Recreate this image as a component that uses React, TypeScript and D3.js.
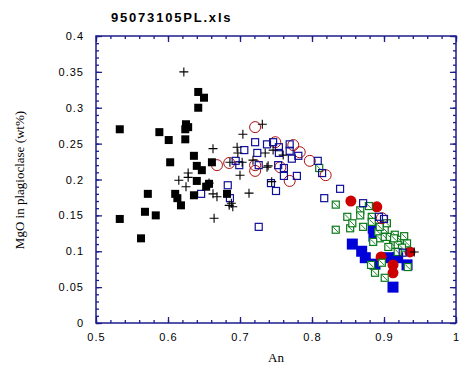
import * as d3 from "d3";
import { useEffect, useRef } from "react";

type Pt = [number, number];

// [An, MgO wt%]
const blackSquares: Pt[] = [
    [0.533, 0.270], [0.588, 0.266], [0.601, 0.255], [0.624, 0.256], [0.642, 0.322],
    [0.650, 0.314], [0.642, 0.300], [0.625, 0.277], [0.628, 0.273], [0.624, 0.270],
    [0.603, 0.224], [0.636, 0.233], [0.640, 0.219], [0.647, 0.213], [0.661, 0.224],
    [0.640, 0.198], [0.657, 0.194], [0.653, 0.190], [0.572, 0.180], [0.610, 0.180],
    [0.613, 0.174], [0.618, 0.164], [0.636, 0.178], [0.682, 0.180], [0.568, 0.155],
    [0.583, 0.150], [0.533, 0.145], [0.5625, 0.118]
];

const plusPoints: Pt[] = [
    [0.622, 0.350], [0.731, 0.277], [0.704, 0.263], [0.6625, 0.243], [0.696, 0.245],
    [0.697, 0.237], [0.735, 0.237], [0.746, 0.241], [0.760, 0.234], [0.686, 0.224],
    [0.703, 0.224], [0.718, 0.227], [0.7375, 0.217], [0.739, 0.219], [0.700, 0.206],
    [0.744, 0.197], [0.628, 0.209], [0.628, 0.203], [0.615, 0.199], [0.625, 0.190],
    [0.657, 0.195], [0.6625, 0.180], [0.668, 0.176], [0.7125, 0.181], [0.685, 0.164],
    [0.690, 0.162], [0.688, 0.167], [0.664, 0.146], [0.942, 0.099]
];

const redOpen: Pt[] = [
    [0.721, 0.273], [0.668, 0.220], [0.685, 0.223], [0.721, 0.220], [0.721, 0.212],
    [0.749, 0.252], [0.774, 0.248], [0.783, 0.238], [0.797, 0.226], [0.819, 0.206],
    [0.769, 0.198], [0.756, 0.217], [0.897, 0.146]
];

const blueOpen: Pt[] = [
    [0.721, 0.252], [0.706, 0.241], [0.7375, 0.249], [0.746, 0.252], [0.754, 0.245],
    [0.769, 0.249], [0.724, 0.237], [0.754, 0.237], [0.769, 0.240], [0.781, 0.233],
    [0.772, 0.229], [0.694, 0.226], [0.699, 0.220], [0.726, 0.220], [0.753, 0.220],
    [0.761, 0.216], [0.761, 0.205], [0.779, 0.205], [0.743, 0.195], [0.750, 0.184],
    [0.683, 0.192], [0.686, 0.174], [0.646, 0.180], [0.726, 0.134], [0.808, 0.226],
    [0.814, 0.209], [0.839, 0.187], [0.817, 0.174], [0.871, 0.167], [0.893, 0.148],
    [0.900, 0.145], [0.926, 0.098]
];

const greenHatched: Pt[] = [
    [0.810, 0.216], [0.833, 0.165], [0.833, 0.130], [0.849, 0.148], [0.853, 0.132],
    [0.856, 0.139], [0.867, 0.157], [0.867, 0.150], [0.871, 0.134], [0.879, 0.163],
    [0.883, 0.148], [0.883, 0.141], [0.892, 0.127], [0.894, 0.118], [0.885, 0.113],
    [0.901, 0.130], [0.901, 0.120], [0.908, 0.120], [0.915, 0.123], [0.922, 0.116],
    [0.932, 0.111], [0.928, 0.121], [0.9125, 0.109], [0.919, 0.109], [0.925, 0.105],
    [0.906, 0.106], [0.897, 0.084], [0.882, 0.081], [0.8875, 0.070], [0.901, 0.063],
    [0.933, 0.078], [0.919, 0.099], [0.894, 0.134], [0.904, 0.139], [0.914, 0.118]
];

const blueFilled: Pt[] = [
    [0.856, 0.110], [0.869, 0.100], [0.874, 0.091], [0.8875, 0.082], [0.885, 0.132],
    [0.886, 0.121], [0.906, 0.091], [0.919, 0.091], [0.932, 0.081], [0.9125, 0.050]
];

const redFilled: Pt[] = [
    [0.854, 0.170], [0.890, 0.162], [0.896, 0.092], [0.9125, 0.081], [0.9125, 0.070],
    [0.936, 0.099], [0.900, 0.136]
];

const xTicks = [0.5, 0.6, 0.7, 0.8, 0.9, 1];
const yTicks = [0, 0.05, 0.1, 0.15, 0.2, 0.25, 0.3, 0.35, 0.4];

const axisColor = "#1c1c8c";

const App = () => {
    const ref = useRef<SVGSVGElement>(null);

    useEffect(() => {
        const svg = d3.select(ref.current);
        svg.selectAll("*").remove();

        const x = d3.scaleLinear().domain([0.5, 1]).range([96, 456]);
        const y = d3.scaleLinear().domain([0, 0.4]).range([323, 36]);

        const xMinor = d3.range(0.5, 1.0001, 0.02).map(v => +v.toFixed(2));
        const yMinor = d3.range(0, 0.4001, 0.01).map(v => +v.toFixed(2));
        const fmt = (v: d3.NumberValue) => String(+(+v).toFixed(2));

        const styleAxis = (g: d3.Selection<SVGGElement, unknown, null, undefined>) => {
            g.select(".domain").remove();
            g.selectAll("line").attr("stroke", axisColor).attr("stroke-width", 1.3);
            g.selectAll("text")
                .attr("fill", "#000")
                .style("font-family", "'Liberation Sans', Arial, sans-serif")
                .style("font-size", "11px")
                .style("letter-spacing", "1px");
        };

        // minor ticks on all four sides, pointing inward
        svg.append("g").attr("transform", "translate(0,323)")
            .call(d3.axisBottom(x).tickValues(xMinor).tickSize(-3).tickFormat(() => ""))
            .call(styleAxis);
        svg.append("g").attr("transform", "translate(0,36)")
            .call(d3.axisTop(x).tickValues(xMinor).tickSize(-3).tickFormat(() => ""))
            .call(styleAxis);
        svg.append("g").attr("transform", "translate(96,0)")
            .call(d3.axisLeft(y).tickValues(yMinor).tickSize(-3).tickFormat(() => ""))
            .call(styleAxis);
        svg.append("g").attr("transform", "translate(456,0)")
            .call(d3.axisRight(y).tickValues(yMinor).tickSize(-3).tickFormat(() => ""))
            .call(styleAxis);

        // major ticks
        svg.append("g").attr("transform", "translate(0,323)")
            .call(d3.axisBottom(x).tickValues(xTicks).tickSize(-6).tickPadding(10).tickFormat(fmt))
            .call(styleAxis);
        svg.append("g").attr("transform", "translate(0,36)")
            .call(d3.axisTop(x).tickValues(xTicks).tickSize(-6).tickFormat(() => ""))
            .call(styleAxis);
        svg.append("g").attr("transform", "translate(96,0)")
            .call(d3.axisLeft(y).tickValues(yTicks).tickSize(-6).tickPadding(12).tickFormat(fmt))
            .call(styleAxis);
        svg.append("g").attr("transform", "translate(456,0)")
            .call(d3.axisRight(y).tickValues(yTicks).tickSize(-6).tickFormat(() => ""))
            .call(styleAxis);

        svg.append("rect")
            .attr("x", 96).attr("y", 36).attr("width", 360).attr("height", 287)
            .attr("fill", "none").attr("stroke", axisColor).attr("stroke-width", 1.5);

        const plot = svg.append("g");

        plot.append("g").selectAll("rect").data(blueFilled).join("rect")
            .attr("x", d => x(d[0]) - 5.5).attr("y", d => y(d[1]) - 5.5)
            .attr("width", 11).attr("height", 11).attr("fill", "#0000d8");

        plot.append("g").selectAll("circle").data(redFilled).join("circle")
            .attr("cx", d => x(d[0])).attr("cy", d => y(d[1])).attr("r", 5.5)
            .attr("fill", "#cc0000");

        const green = plot.append("g").selectAll("g").data(greenHatched).join("g")
            .attr("transform", d => `translate(${x(d[0])},${y(d[1])})`);
        green.append("rect").attr("x", -3.5).attr("y", -3.5).attr("width", 7).attr("height", 7)
            .attr("fill", "#fff").attr("stroke", "#0a7a1a").attr("stroke-width", 1.2);
        green.append("line").attr("x1", -2.5).attr("y1", -2.5).attr("x2", 2.5).attr("y2", 2.5)
            .attr("stroke", "#0a7a1a").attr("stroke-width", 0.9);

        plot.append("g").selectAll("circle").data(redOpen).join("circle")
            .attr("cx", d => x(d[0])).attr("cy", d => y(d[1])).attr("r", 5.5)
            .attr("fill", "none").attr("stroke", "#b01010").attr("stroke-width", 1);

        plot.append("g").selectAll("rect").data(blueOpen).join("rect")
            .attr("x", d => x(d[0]) - 3.5).attr("y", d => y(d[1]) - 3.5)
            .attr("width", 7).attr("height", 7)
            .attr("fill", "none").attr("stroke", "#10109a").attr("stroke-width", 1.2);

        plot.append("g").selectAll("rect").data(blackSquares).join("rect")
            .attr("x", d => x(d[0]) - 4).attr("y", d => y(d[1]) - 4)
            .attr("width", 8).attr("height", 8).attr("fill", "#000");

        plot.append("g").selectAll("path").data(plusPoints).join("path")
            .attr("d", d => {
                const cx = x(d[0]), cy = y(d[1]);
                return `M${cx - 4.5},${cy}H${cx + 4.5}M${cx},${cy - 4.5}V${cy + 4.5}`;
            })
            .attr("stroke", "#000").attr("stroke-width", 1.1).attr("fill", "none");

        svg.append("text")
            .attr("x", 111).attr("y", 22)
            .style("font-family", "'Liberation Sans', Arial, sans-serif")
            .style("font-size", "13px").style("font-weight", "bold")
            .style("letter-spacing", "1.8px")
            .text("95073105PL.xls");

        svg.append("text")
            .attr("x", 276).attr("y", 362).attr("text-anchor", "middle")
            .style("font-family", "'Liberation Serif', 'Times New Roman', serif")
            .style("font-size", "13px")
            .text("An");

        svg.append("text")
            .attr("transform", "translate(24,180) rotate(-90)")
            .attr("text-anchor", "middle")
            .style("font-family", "'Liberation Serif', 'Times New Roman', serif")
            .style("font-size", "13px")
            .text("MgO in plagioclase (wt%)");
    }, []);

    return <svg ref={ref} width={469} height={374}
        style={{ position: "absolute", left: 0, top: 0, background: "#fff" }} />;
};

export default App;
